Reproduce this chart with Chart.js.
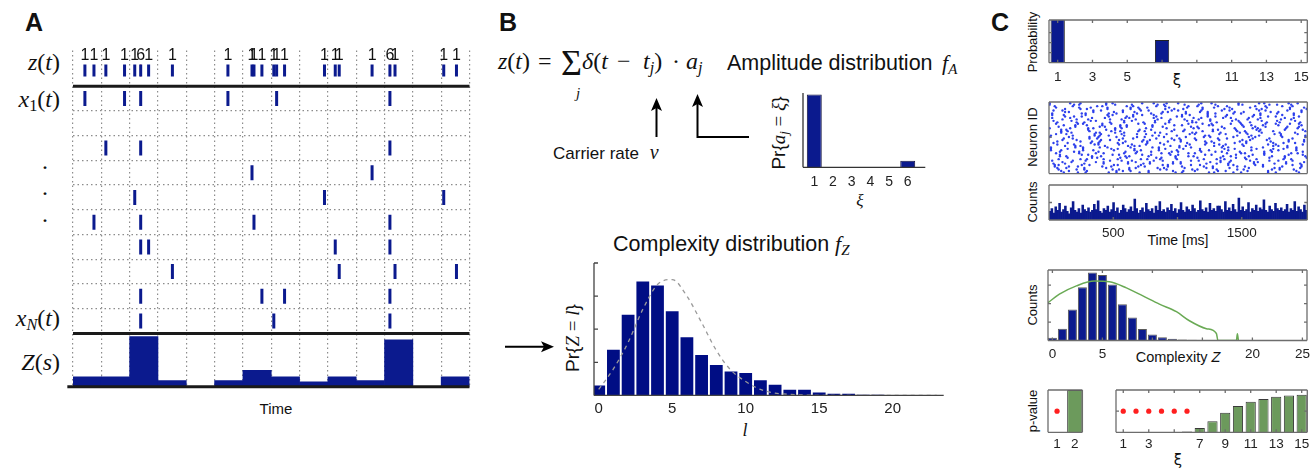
<!DOCTYPE html>
<html>
<head>
<meta charset="utf-8">
<script src="https://cdn.jsdelivr.net/npm/chart.js@4.4.1/dist/chart.umd.min.js"></script>
<style>
  html, body { margin: 0; padding: 0; background: #fff; overflow: hidden; }
  #fig { position: relative; width: 1316px; height: 468px; font-family: 'Liberation Sans', Arial, sans-serif; color: #111; }
  canvas { position: absolute; }
  .t { position: absolute; white-space: nowrap; line-height: 1; }
  .c { transform: translate(-50%, -50%); }
  .r { transform: translate(-50%, -50%) rotate(-90deg); }
  .m { font-family: 'Liberation Serif', 'DejaVu Serif', serif; }
  .pl { font-weight: bold; font-size: 25px; }
  sub { font-size: 68%; vertical-align: -0.25em; }
</style>
</head>
<body>
<div id="fig">
  <!-- panel letters -->
  <div class="t c pl" style="left:34px;top:22px">A</div>
  <div class="t c pl" style="left:508px;top:22px">B</div>
  <div class="t c pl" style="left:1000px;top:22px">C</div>

  <!-- panel A row labels -->
  <div class="t m" style="right:1256px;top:50px;font-size:24px"><i>z</i>(<i>t</i>)</div>
  <div class="t m" style="right:1256px;top:87px;font-size:24px"><i>x</i><sub>1</sub>(<i>t</i>)</div>
  <div class="t c m" style="left:45px;top:167px;font-size:24px">·</div>
  <div class="t c m" style="left:45px;top:193px;font-size:24px">·</div>
  <div class="t c m" style="left:45px;top:220px;font-size:24px">·</div>
  <div class="t m" style="right:1256px;top:306px;font-size:24px"><i>x</i><sub><i>N</i></sub>(<i>t</i>)</div>
  <div class="t m" style="right:1256px;top:350px;font-size:24px"><i>Z</i>(<i>s</i>)</div>
  <div class="t c" style="left:276px;top:408px;font-size:15px">Time</div>

  <!-- panel B text -->
  <div class="t m" style="left:498px;top:49px;font-size:24px"><i>z</i>(<i>t</i>)</div>
  <div class="t m" style="left:538px;top:49px;font-size:24px">=</div>
  <div class="t m" style="left:561px;top:45px;font-size:36px">Σ</div>
  <div class="t c m" style="left:578px;top:93px;font-size:15px"><i>j</i></div>
  <div class="t m" style="left:582px;top:49px;font-size:24px"><i>δ</i>(<i>t</i></div>
  <div class="t m" style="left:617px;top:49px;font-size:24px">−</div>
  <div class="t m" style="left:643px;top:49px;font-size:24px"><i>t</i><sub><i>j</i></sub>)</div>
  <div class="t m" style="left:672px;top:49px;font-size:24px">·</div>
  <div class="t m" style="left:686px;top:49px;font-size:24px"><i>a</i><sub><i>j</i></sub></div>
  <div class="t" style="left:727px;top:52.5px;font-size:21.5px">Amplitude distribution</div>
  <div class="t m" style="left:942px;top:52.3px;font-size:22px"><i>f</i><sub><i>A</i></sub></div>
  <div class="t" style="left:553px;top:142.3px;font-size:17px">Carrier rate <span class="m" style="font-size:20px;margin-left:6px"><i>ν</i></span></div>
  <div class="t r" style="left:780px;top:132.5px;font-size:19px">Pr{<span class="m"><i>a</i><sub><i>j</i></sub> = <i>ξ</i></span>}</div>
  <div class="t c m" style="left:860px;top:200px;font-size:17px"><i>ξ</i></div>
  <div class="t" style="left:613px;top:233.5px;font-size:21.5px">Complexity distribution</div>
  <div class="t m" style="left:835px;top:233.3px;font-size:22px"><i>f</i><sub><i>Z</i></sub></div>
  <div class="t r" style="left:571.5px;top:338px;font-size:19px">Pr{<span class="m"><i>Z</i> = <i>l</i></span>}</div>
  <div class="t c m" style="left:745px;top:430px;font-size:18px"><i>l</i></div>

  <!-- panel C text -->
  <div class="t r" style="left:1031.7px;top:41.5px;font-size:13px">Probability</div>
  <div class="t c" style="left:1177px;top:80px;font-size:15px;font-family:'DejaVu Sans'">ξ</div>
  <div class="t r" style="left:1031.7px;top:137px;font-size:13px">Neuron ID</div>
  <div class="t r" style="left:1031.7px;top:202px;font-size:13px">Counts</div>
  <div class="t c" style="left:1178px;top:240px;font-size:14px">Time [ms]</div>
  <div class="t r" style="left:1031.7px;top:305px;font-size:13px">Counts</div>
  <div class="t c" style="left:1178px;top:357px;font-size:14.5px">Complexity <i>Z</i></div>
  <div class="t r" style="left:1031.7px;top:411px;font-size:13px">p-value</div>
  <div class="t c" style="left:1178px;top:460px;font-size:15px;font-family:'DejaVu Sans'">ξ</div>

  <!-- arrows in panel B -->
  <svg width="1316" height="468" style="position:absolute;left:0;top:0;pointer-events:none">
    <g stroke="#000" stroke-width="2" fill="none">
      <line x1="656.5" y1="137" x2="656.5" y2="106"/>
      <polyline points="749,137 697.5,137 697.5,102"/>
      <line x1="505" y1="346.7" x2="545" y2="346.7"/>
    </g>
    <g fill="#000">
      <polygon points="656.5,98 651,111 656.5,108 662,111"/>
      <polygon points="697.5,94 692,107 697.5,104 703,107"/>
      <polygon points="554,346.7 541,341.2 544,346.7 541,352.2"/>
    </g>
  </svg>
</div>

<script>
// ============================================================
// Data
// ============================================================

// --- Panel A: 14 time bins, 10 neurons, carrier events ---
const A_GRID_X = [0, 1, 2, 3, 4, 5, 6, 7, 8, 9, 10, 11, 12, 13, 14];
const A_ROW_LINES = [1, 2, 3, 4, 5, 6, 7, 8, 9];
const A_SPIKES = [
  [0.42, 1.82, 2.39, 5.47, 7.19, 11.19],
  [],
  [1.16, 2.39, 11.19],
  [6.32, 10.56],
  [2.18, 8.88, 13.09],
  [0.74, 2.39, 6.39, 11.19],
  [2.39, 2.67, 9.26, 11.19],
  [3.51, 9.40, 11.37, 13.54],
  [2.39, 6.67, 7.47, 11.19],
  [2.39, 7.09, 11.19],
];
const A_EVENT_T   = [0.42, 0.74, 1.16, 1.82, 2.18, 2.39, 2.67, 3.51, 5.47, 6.32, 6.39, 6.67,
                     7.09, 7.19, 7.47, 8.88, 9.26, 9.40, 10.56, 11.19, 11.37, 13.09, 13.54];
const A_EVENT_AMP = [1, 1, 1, 1, 1, 6, 1, 1, 1, 1, 1, 1, 1, 1, 1, 1, 1, 1, 1, 6, 1, 1, 1];
const A_Z = [1.8, 1.8, 9.2, 1.1, 0, 1.1, 3.0, 1.8, 0.9, 1.8, 1.1, 8.6, 0, 1.8];

// --- Panel B: amplitude distribution and complexity distribution ---
const B_XI   = [1, 2, 3, 4, 5, 6];
const B_PA   = [0.9, 0, 0, 0, 0, 0.08];
const B_L    = [0, 1, 2, 3, 4, 5, 6, 7, 8, 9, 10, 11, 12, 13, 14, 15, 16, 17, 18, 19, 20, 21, 22, 23];
const B_PZ   = [0.015, 0.069, 0.122, 0.172, 0.166, 0.127, 0.088, 0.061, 0.046, 0.036, 0.034, 0.023,
                0.016, 0.0085, 0.0085, 0.0045, 0.0025, 0.0025, 0.001, 0.0008, 0.0005, 0.0005, 0.0005, 0.0003];
const B_FZ   = [0.009, 0.04, 0.08, 0.13, 0.1675, 0.175, 0.15, 0.11, 0.068, 0.038, 0.021, 0.009,
                0.0035, 0.0015, 0.0005, 0, 0, 0, 0, 0, 0, 0, 0, 0];
const B_L_TICKS = [0, 5, 10, 15, 20];
const B_P_MARKS = [0.05, 0.1, 0.15, 0.2];

// --- Panel C: amplitude probabilities ---
const C_XI = [1, 2, 3, 4, 5, 6, 7, 8, 9, 10, 11, 12, 13, 14, 15];
const C_PROB = [0.7, 0, 0, 0, 0, 0, 0.34, 0, 0, 0, 0, 0, 0, 0, 0];
const C_XI_TICKS = [1, 3, 5, 7, 9, 11, 13, 15];

// --- Panel C: raster, spike times in 10 ms units per neuron ---
const C_RASTER = [
  '11 22 28 46 52 70 77 98 103 124 128 143 149 170 176 194',
  '9 15 29 52 57 63 77 96 104 113 131 137 154 170 192',
  '7 21 27 49 54 62 86 91 111 115 130 146 151 173 179 190',
  '6 13 27 44 62 67 84 89 105 122 127 140 155 175 179 195',
  '4 15 22 41 48 69 74 92 103 120 127 146 152 166 181 196',
  '4 7 25 31 50 53 71 88 92 110 117 139 143 160 166 189 196',
  '3 12 27 42 61 73 78 96 102 122 130 139 159 175 184 195',
  '10 17 36 42 61 67 78 96 102 125 133 140 159 162 184 198',
  '2 18 28 47 56 64 81 88 110 116 133 141 156 171 178 189',
  '7 24 29 42 53 71 76 86 99 120 130 136 153 161 182 188',
  '14 33 37 55 60 83 87 98 115 133 145 152 171 183 200',
  '8 13 33 40 59 62 77 98 108 112 135 141 155 173 183 199',
  '8 25 30 49 54 72 79 94 100 121 126 145 158 167 186 197',
  '5 23 36 42 58 67 87 93 108 113 138 149 152 167 188 193',
  '8 19 23 38 59 68 79 95 100 118 129 134 148 167 173 197',
  '1 9 26 34 50 66 71 85 99 117 124 139 157 172 178 192',
  '1 14 26 48 53 66 85 90 104 117 136 144 161 174 182 192',
  '1 20 26 39 45 63 80 85 101 110 134 139 157 166 185 192',
  '12 20 24 43 61 66 70 94 101 106 128 135 151 174 178 185',
  '6 19 35 38 54 64 75 89 109 121 132 137 150 170 176 197',
  '3 14 32 38 53 57 76 86 107 122 128 144 153 174 182 191',
  '6 24 33 39 59 72 76 92 102 121 126 148 153 172 186 198',
  '10 21 40 47 54 73 78 97 102 114 132 150 156 169 186 198',
  '11 18 31 37 57 65 83 95 101 113 131 138 158 171 189',
  '0 15 31 38 52 68 74 89 106 120 125 143 155 160 181 199',
  '1 18 35 39 46 58 80 85 99 121 124 146 157 163 180 199',
  '5 13 35 40 56 68 75 91 109 113 132 137 154 175 180 193',
  '9 17 36 39 51 58 82 86 111 114 133 148 153 165 179 191',
  '9 14 31 48 55 69 74 95 104 119 127 146 152 163 174 199',
  '9 13 30 44 51 70 79 97 105 127 131 145 161 164 183 197',
  '0 16 30 34 51 56 75 91 112 116 136 144 158 162 184 193',
  '7 20 39 43 55 60 80 88 110 115 134 151 160 168 185 194',
  '11 20 29 41 55 60 80 97 103 124 127 150 157 166 178 196',
  '5 22 26 41 48 69 74 90 108 119 126 141 149 168 176 187 194',
  '6 21 27 47 58 73 82 93 111 114 130 148 156 169 179 195',
  '3 17 32 36 58 64 82 93 107 111 125 142 147 165 177 191',
  '10 21 30 47 56 67 84 94 105 116 125 145 154 162 180 188',
  '2 16 33 43 59 62 81 87 112 118 135 141 155 164 183 190',
  '12 19 25 46 60 65 83 99 103 123 129 137 158 170 176 194',
  '2 11 28 45 49 65 72 81 103 109 123 138 159 164 181 190',
  '2 25 28 46 52 68 79 87 106 123 129 143 149 164 177 190',
  '12 15 34 50 57 66 88 92 106 117 123 144 151 172 178 196',
  '3 10 34 40 57 71 77 95 100 118 134 140 163 168 185 196',
  '12 24 29 45 63 70 90 97 104 119 136 142 161 165 187 200',
  '5 23 32 45 63 69 76 93 107 119 128 140 156 169 187 198',
  '4 18 37 41 60 65 83 90 108 115 131 138 160 168 181 189',
  '0 19 23 44 51 64 84 89 105 116 129 147 150 171 177 188',
  '0 16 24 44 49 72 81 91 100 118 126 147 163 167 186 193',
];

// --- Panel C: population counts, 15 ms bins ---
const C_COUNTS = [
  10, 13, 8, 15, 11, 19, 9, 12, 16, 10, 7, 14, 21, 11, 9, 13, 8, 17, 12, 10,
  14, 9, 11, 18, 12, 22, 10, 8, 13, 11, 16, 9, 12, 20, 10, 14, 8, 11, 17, 13,
  9, 12, 15, 10, 24, 13, 8, 11, 14, 9, 19, 12, 10, 13, 8, 16, 11, 21, 10, 12,
  9, 14, 11, 18, 10, 13, 8, 12, 20, 11, 9, 15, 12, 10, 17, 13, 9, 11, 22, 12,
  10, 14, 9, 19, 11, 13, 10, 16, 16, 12, 9, 21, 11, 14, 10, 18, 12, 9, 25, 11,
  15, 10, 12, 20, 9, 13, 11, 17, 10, 14, 12, 23, 11, 9, 16, 12, 10, 19, 13, 11,
  14, 10, 12, 18, 9, 13, 11, 21, 10, 15, 12, 9, 17, 11,
];
const C_TIME_TICKS = [500, 1000, 1500];

// --- Panel C: complexity histogram and surrogate curve ---
const C_Z = [0, 1, 2, 3, 4, 5, 6, 7, 8, 9, 10, 11, 12, 13, 14, 15, 16];
const C_ZCOUNT = [15, 64, 168, 288, 368, 355, 304, 197, 124, 62, 33, 18, 9, 5, 4, 2, 1];
const C_FIT_Z = [-0.44, 0.7, 2.4, 4.2, 5.7, 7.4, 9.0, 10.7, 12.4, 13.7, 15.4, 16.4, 16.55, 18.4, 18.5, 18.6];
const C_FIT_Y = [205, 251, 296, 322, 318, 285, 243, 197, 156, 107, 64, 38, 0, 0, 37, 0];
const C_Z_TICKS = [0, 5, 10, 15, 20, 25];

// --- Panel C: p-values ---
const C_P2_X = [1, 2];
const C_P2 = [0, 1];
const C_P2_SIG = [1];
const C_P15 = [0, 0, 0, 0, 0, 0.02, 0.1, 0.26, 0.46, 0.62, 0.72, 0.79, 0.84, 0.87, 0.89];
const C_P15_SIG = [1, 2, 3, 4, 5, 6];
const C_SIG_LEVEL = 0.5;

// ============================================================
// Styling helpers
// ============================================================
const NAVY = '#0b1a8e';
const GREEN = '#6c9a5c';
const SANS = "'Liberation Sans', Arial, sans-serif";
Chart.defaults.font.family = SANS;
Chart.defaults.color = '#222';

// frame / inward tick marks drawn from the chart's own scales
const framePlugin = {
  id: 'frame',
  afterDatasetsDraw(chart, args, o) {
    if (!o || !o.sides) return;
    const { ctx, chartArea: a, scales } = chart;
    const len = o.tickLen || 3;
    const s = o.sides;
    ctx.save();
    ctx.strokeStyle = o.color || '#6d6d6d';
    ctx.lineWidth = o.width || 1.3;
    ctx.beginPath();
    if (s.includes('l')) { ctx.moveTo(a.left, a.top); ctx.lineTo(a.left, a.bottom); }
    if (s.includes('r')) { ctx.moveTo(a.right, a.top); ctx.lineTo(a.right, a.bottom); }
    if (s.includes('t')) { ctx.moveTo(a.left, a.top); ctx.lineTo(a.right, a.top); }
    if (s.includes('b')) { ctx.moveTo(a.left, a.bottom); ctx.lineTo(a.right, a.bottom); }
    (o.xMarks || []).forEach(v => {
      const px = scales.x.getPixelForValue(v);
      ctx.moveTo(px, a.bottom); ctx.lineTo(px, a.bottom - len);
      if (o.mirror) { ctx.moveTo(px, a.top); ctx.lineTo(px, a.top + len); }
    });
    (o.yMarks || []).forEach(v => {
      const py = scales.y.getPixelForValue(v);
      ctx.moveTo(a.left, py); ctx.lineTo(a.left + len, py);
      if (o.mirror) { ctx.moveTo(a.right, py); ctx.lineTo(a.right - len, py); }
    });
    ctx.stroke();
    ctx.restore();
  }
};

// amplitude numbers above the z(t) ticks
const ampPlugin = {
  id: 'ampLabels',
  afterDatasetsDraw(chart) {
    const { ctx } = chart;
    chart.data.datasets.forEach((ds, i) => {
      if (!ds.ampLabels) return;
      const meta = chart.getDatasetMeta(i);
      ctx.save();
      ctx.font = '16px ' + SANS;
      ctx.fillStyle = '#111';
      ctx.textAlign = 'center';
      ctx.textBaseline = 'middle';
      meta.data.forEach((pt, j) => ctx.fillText(String(ds.data[j].a), pt.x, pt.y - 14.5));
      ctx.restore();
    });
  }
};
Chart.register(framePlugin, ampPlugin);

// canvas placed so that its chart area lands on the given box
function mount(box, axisH) {
  const mx = 12, mt = 8, mb = 12;
  const x = box.l - mx, y = box.t - mt;
  const w = Math.round(box.r - box.l + 2 * mx);
  const h = Math.round(box.b - box.t + mt + axisH + mb);
  const c = document.createElement('canvas');
  c.width = w; c.height = h;
  c.style.left = x + 'px'; c.style.top = y + 'px';
  document.getElementById('fig').appendChild(c);
  return { canvas: c, padding: { left: box.l - x, top: box.t - y, right: x + w - box.r, bottom: y + h - box.b - axisH } };
}

function tickAxis(min, max, ticks, hidden, pad, size, axisH) {
  return {
    type: 'linear', min, max, offset: false,
    grid: { display: false, drawTicks: false, offset: false },
    border: { display: false },
    afterBuildTicks: s => { s.ticks = ticks.map(v => ({ value: v })); },
    afterFit: s => { s.height = axisH; },
    ticks: {
      autoSkip: false, maxRotation: 0, padding: pad, color: '#222',
      font: { family: SANS, size },
      callback: v => (hidden.includes(v) ? '' : String(v)),
    },
  };
}

function baseOptions(padding, scales, frame) {
  return {
    responsive: false, animation: false, events: [],
    layout: { padding },
    plugins: { legend: { display: false }, tooltip: { enabled: false }, frame: frame || {} },
    scales,
  };
}

const xy = (xs, ys) => xs.map((x, i) => ({ x, y: ys[i] }));

// ============================================================
// Panel A — raster with carrier process and Z(s)
// ============================================================
(function panelA() {
  const A_Y_MIN = -2.157, A_Y_MAX = 11.446, A_ZROW = 10.64, A_ZMAX = 61.6;
  const c = document.createElement('canvas');
  c.width = 480; c.height = 360; c.style.left = '0px'; c.style.top = '40px';
  document.getElementById('fig').appendChild(c);

  const spikeStyle = {
    type: 'scatter', pointStyle: 'line', pointRotation: 90, pointRadius: 7.5,
    pointBorderWidth: 3, pointBorderColor: NAVY, borderColor: NAVY,
  };
  const hLine = (y, x0) => ({
    type: 'line', data: [{ x: x0, y }, { x: 14, y }], borderColor: '#1a1a1a',
    borderWidth: 3, pointRadius: 0, clip: false,
  });

  const datasets = A_SPIKES.map((ts, k) => ({ ...spikeStyle, data: ts.map(t => ({ x: t, y: 9.5 - k })) }));
  datasets.push({
    ...spikeStyle, pointRadius: 6, ampLabels: true,
    data: A_EVENT_T.map((t, i) => ({ x: t, y: A_ZROW, a: A_EVENT_AMP[i] })),
  });
  datasets.push({
    type: 'scatter', pointStyle: 'line', pointRotation: 90, pointRadius: 6,
    pointBorderWidth: 1.2, pointBorderColor: '#e02020', borderColor: '#e02020',
    data: A_EVENT_T.filter((t, i) => A_EVENT_AMP[i] > 1).map(t => ({ x: t, y: A_ZROW })),
  });
  datasets.push(hLine(10, 0), hLine(0, 0), hLine(A_Y_MIN, -0.2));
  datasets.push({
    type: 'bar', yAxisID: 'yz', data: A_Z.map((v, i) => ({ x: i + 0.5, y: v })),
    backgroundColor: NAVY, borderWidth: 0, barPercentage: 1, categoryPercentage: 1,
  });

  const dotted = { color: '#8c8c8c', lineWidth: 1.2, drawTicks: false, offset: false };
  new Chart(c, {
    type: 'scatter',
    data: { datasets },
    options: baseOptions({ left: 73, right: 8, top: 8, bottom: 13.3 }, {
      x: {
        type: 'linear', min: 0, max: 14, offset: false, grid: dotted,
        border: { display: false, dash: [1.5, 3] }, ticks: { display: false },
        afterBuildTicks: s => { s.ticks = A_GRID_X.map(v => ({ value: v })); },
        afterFit: s => { s.height = 0; },
      },
      y: {
        type: 'linear', min: A_Y_MIN, max: A_Y_MAX, grid: dotted,
        border: { display: false, dash: [1.5, 3] }, ticks: { display: false },
        afterBuildTicks: s => { s.ticks = A_ROW_LINES.map(v => ({ value: v })); },
        afterFit: s => { s.width = 0; },
      },
      yz: { type: 'linear', display: false, min: 0, max: A_ZMAX },
    }),
  });
})();

// ============================================================
// Panel B — amplitude distribution
// ============================================================
(function panelB1() {
  const { canvas, padding } = mount({ l: 802.7, t: 93, r: 925, b: 167.3 }, 22);
  new Chart(canvas, {
    type: 'bar',
    data: { datasets: [{
      data: xy(B_XI, B_PA), backgroundColor: NAVY, borderColor: '#151540', borderWidth: 1,
      barPercentage: 0.8, categoryPercentage: 1,
    }] },
    options: baseOptions(padding, {
      x: tickAxis(0.396, 6.94, B_XI, [], 6.8, 14, 22),
      y: { type: 'linear', display: false, min: 0, max: 0.92 },
    }, { sides: 'lb', color: '#333' }),
  });
})();

// ============================================================
// Panel B — complexity distribution
// ============================================================
(function panelB2() {
  const { canvas, padding } = mount({ l: 594.3, t: 263.3, r: 944, b: 395.7 }, 22);
  new Chart(canvas, {
    type: 'bar',
    data: { datasets: [
      {
        type: 'line', order: 0, data: xy(B_L, B_FZ), borderColor: '#9a9a9a', borderWidth: 1.3,
        borderDash: [4, 4], pointRadius: 0, cubicInterpolationMode: 'monotone',
      },
      {
        type: 'bar', order: 1, data: xy(B_L, B_PZ), backgroundColor: '#000d84',
        borderWidth: 0, barPercentage: 0.87, categoryPercentage: 1,
      },
    ] },
    options: baseOptions(padding, {
      x: tickAxis(-0.32, 23.47, B_L_TICKS, [], 4.5, 15, 22),
      y: { type: 'linear', display: false, min: 0, max: 0.2 },
    }, { sides: 'lb', color: '#444', yMarks: B_P_MARKS, tickLen: 4 }),
  });
})();

// ============================================================
// Panel C — amplitude probabilities
// ============================================================
(function panelC1() {
  const { canvas, padding } = mount({ l: 1049, t: 20, r: 1307.3, b: 62.7 }, 22);
  new Chart(canvas, {
    type: 'bar',
    data: { datasets: [{
      data: xy(C_XI, C_PROB), backgroundColor: NAVY, borderColor: '#222', borderWidth: 1,
      barPercentage: 0.82, categoryPercentage: 1,
    }] },
    options: baseOptions(padding, {
      x: tickAxis(0.5, 15.35, C_XI_TICKS, [7, 9], 6, 13.5, 22),
      y: { type: 'linear', display: false, min: 0, max: 0.64 },
    }, { sides: 'lrtb', xMarks: C_XI_TICKS, yMarks: [0.15, 0.3, 0.45], mirror: true }),
  });
})();

// ============================================================
// Panel C — raster
// ============================================================
(function panelC2() {
  const { canvas, padding } = mount({ l: 1049, t: 101.7, r: 1307.3, b: 173.3 }, 0);
  const pts = [];
  C_RASTER.forEach((row, n) => row.split(' ').forEach(t => pts.push({ x: Number(t) * 10 + 5, y: n })));
  new Chart(canvas, {
    type: 'scatter',
    data: { datasets: [{
      data: pts, pointRadius: 1.2, pointBorderWidth: 0,
      pointBackgroundColor: 'rgba(35,55,235,0.95)', backgroundColor: 'rgba(35,55,235,0.95)',
    }] },
    options: baseOptions(padding, {
      x: { type: 'linear', display: false, min: 0, max: 2010 },
      y: { type: 'linear', display: false, min: -0.8, max: C_RASTER.length - 0.2 },
    }, { sides: 'lrtb', yMarks: [C_RASTER.length / 2], mirror: true }),
  });
})();

// ============================================================
// Panel C — population counts
// ============================================================
(function panelC3() {
  const { canvas, padding } = mount({ l: 1049, t: 185, r: 1307.3, b: 220 }, 22);
  new Chart(canvas, {
    type: 'bar',
    data: { datasets: [{
      data: C_COUNTS.map((v, i) => ({ x: 7.5 + 15 * i, y: v })),
      backgroundColor: NAVY, borderWidth: 0, barPercentage: 1, categoryPercentage: 1,
    }] },
    options: baseOptions(padding, {
      x: tickAxis(0, 2010, C_TIME_TICKS, [1000], 5.4, 13.5, 22),
      y: { type: 'linear', display: false, min: 0, max: 40 },
    }, { sides: 'lrtb', xMarks: C_TIME_TICKS, yMarks: [20], mirror: true }),
  });
})();

// ============================================================
// Panel C — complexity histogram
// ============================================================
(function panelC4() {
  const { canvas, padding } = mount({ l: 1048.3, t: 270, r: 1307.3, b: 340.5 }, 22);
  new Chart(canvas, {
    type: 'bar',
    data: { datasets: [
      {
        type: 'line', order: 0, data: xy(C_FIT_Z, C_FIT_Y), borderColor: '#6aaa55',
        borderWidth: 1.5, pointRadius: 0, cubicInterpolationMode: 'monotone',
      },
      {
        type: 'bar', order: 1, data: xy(C_Z, C_ZCOUNT), backgroundColor: NAVY,
        borderColor: '#5a5a5a', borderWidth: 1, barPercentage: 0.9, categoryPercentage: 1,
      },
    ] },
    options: baseOptions(padding, {
      x: tickAxis(-0.44, 25.46, C_Z_TICKS, [10, 15], 5.5, 13.5, 22),
      y: { type: 'linear', display: false, min: 0, max: 382 },
    }, { sides: 'lrtb', xMarks: C_Z_TICKS, yMarks: [100, 200, 300], mirror: true }),
  });
})();

// ============================================================
// Panel C — p-values
// ============================================================
function pValueChart(box, xs, ys, sig, xMin, xMax, ticks, hidden, marks, bw) {
  const { canvas, padding } = mount(box, 20);
  new Chart(canvas, {
    type: 'bar',
    data: { datasets: [
      {
        type: 'scatter', order: 0, data: sig.map(x => ({ x, y: C_SIG_LEVEL })),
        pointRadius: 2.6, pointBorderWidth: 0, pointBackgroundColor: '#ff1f1f', backgroundColor: '#ff1f1f',
      },
      {
        type: 'bar', order: 1, data: xy(xs, ys), backgroundColor: GREEN,
        borderColor: '#3a3a3a', borderWidth: 1, barPercentage: bw, categoryPercentage: 1,
      },
    ] },
    options: baseOptions(padding, {
      x: tickAxis(xMin, xMax, ticks, hidden, 3.7, 13.5, 20),
      y: { type: 'linear', display: false, min: 0, max: 1 },
    }, marks),
  });
}
pValueChart({ l: 1048.3, t: 390, r: 1082.7, b: 432.3 }, C_P2_X, C_P2, C_P2_SIG, 0.49, 2.43, C_P2_X, [],
  { sides: 'lrtb' }, 0.86);
pValueChart({ l: 1116, t: 390, r: 1307.3, b: 432.3 }, C_XI, C_P15, C_P15_SIG, 0.43, 15.44, C_XI_TICKS, [5],
  { sides: 'lrtb', xMarks: C_XI_TICKS, yMarks: [C_SIG_LEVEL], mirror: true }, 0.8);
</script>
</body>
</html>
